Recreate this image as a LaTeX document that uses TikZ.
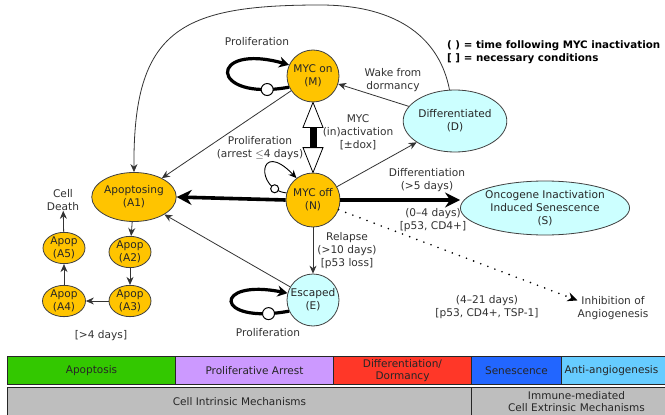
\documentclass[tikz,border=0pt]{standalone}
\usepackage{fontspec}
\setmainfont{DejaVu Sans}
\usetikzlibrary{shapes.geometric,arrows.meta,calc}
\definecolor{morange}{RGB}{255,196,0}
\definecolor{mcyan}{RGB}{204,255,255}
\definecolor{bgreen}{RGB}{51,200,0}
\definecolor{bpurple}{RGB}{204,153,255}
\definecolor{bred}{RGB}{255,55,40}
\definecolor{bblue}{RGB}{34,102,255}
\definecolor{blblue}{RGB}{102,204,255}
\definecolor{bgray}{RGB}{190,190,190}
\definecolor{txt}{RGB}{50,50,50}
\begin{document}
\begin{tikzpicture}[x=1pt,y=-1pt,font=\fontsize{10.6}{13}\selectfont,
  onode/.style={draw=black!75,fill=morange,line width=0.8pt,align=center,inner sep=0pt,text=black!85},
  cnode/.style={draw=black!75,fill=mcyan,line width=0.8pt,align=center,inner sep=0pt,text=black!85},
  lbl/.style={align=center,text=txt,inner sep=0pt},
  thinarr/.style={draw=black!80,line width=0.8pt,-{Stealth[length=8pt,width=7pt]}},
  thickarr/.style={draw=black,line width=3.6pt,-{Stealth[length=15pt,width=15pt]}},
  loopthick/.style={draw=black,line width=3.2pt,-{Stealth[length=10pt,width=11pt]}},
  loopthin/.style={draw=black,line width=0.9pt,-{Stealth[length=8pt,width=7pt]}},
  tailc/.style={circle,draw=black,fill=white,line width=1pt,minimum size=#1,inner sep=0pt},
  dotarr/.style={draw=black,line width=1.8pt,dash pattern=on 0pt off 7.6pt,line cap=round,-{Stealth[length=10pt,width=9pt]}},
  bar/.style={draw=black!85,line width=1pt,anchor=north west,inner sep=0pt,align=center,text=black!85,font=\fontsize{10.5}{12.5}\selectfont}
]
\clip (0,0) rectangle (665,415);
\fill[white] (0,0) rectangle (665,415);

% nodes
\node[onode,circle,minimum size=52] (M) at (313,76) {MYC on\\(M)};
\node[onode,circle,minimum size=54] (N) at (313,200) {MYC off\\(N)};
\node[cnode,circle,minimum size=52] (E) at (313,300) {Escaped\\(E)};
\node[cnode,ellipse,minimum width=78,minimum height=62] (D) at (455,121) {Differentiated\\(D)};
\node[cnode,ellipse,minimum width=136,minimum height=54] (S) at (545,208) {Oncogene Inactivation\\Induced Senescence\\(S)};
\node[onode,ellipse,minimum width=67,minimum height=49] (A1) at (134,197) {Apoptosing\\(A1)};
\node[onode,ellipse,minimum width=42,minimum height=29] (A2) at (130,252) {Apop\\(A2)};
\node[onode,ellipse,minimum width=42,minimum height=29] (A3) at (130,301) {Apop\\(A3)};
\node[onode,ellipse,minimum width=43,minimum height=29] (A4) at (64,301) {Apop\\(A4)};
\node[onode,ellipse,minimum width=42,minimum height=27] (A5) at (64,248) {Apop\\(A5)};
\node[lbl] (CD) at (63,200) {Cell\\Death};
\node[lbl] (I) at (613,308) {Inhibition of\\Angiogenesis};

% legend
\node[anchor=west,inner sep=0pt,align=left,font=\fontsize{10.3}{13}\selectfont\bfseries] (L) at (447,52) {( ) = time following MYC inactivation\\{[ ]} = necessary conditions};

% labels
\node[lbl] (lp1) at (257,42) {Proliferation};
\node[lbl] (lp2) at (260,148) {Proliferation\\(arrest \(\leq\)4 days)};
\node[lbl] (lmyc) at (358,132) {MYC\\(in)activation\\{[}±dox]};
\node[lbl] (lwake) at (393,80) {Wake from\\dormancy};
\node[lbl] (ldiff) at (427,180) {Differentiation\\(>5 days)};
\node[lbl] (lsen) at (433,220) {(0–4 days)\\{[}p53, CD4+]};
\node[lbl] (lrel) at (347,251) {Relapse\\(>10 days)\\{[}p53 loss]};
\node[lbl] (lp3) at (268,333) {Proliferation};
\node[lbl] (l4d) at (101,336) {[>4 days]};
\node[lbl] (lang) at (487,307) {(4–21 days)\\{[}p53, CD4+, TSP-1]};

% big arc D -> A1
\draw[thinarr] (D.100) .. controls (440,40) and (400,5) .. (320,5)
   .. controls (180,5) and (133,30) .. (A1.north);
% straight connectors
\draw[thinarr] (M) -- (A1);
\draw[thinarr] (D) -- (M);
\draw[thinarr] (N) -- (D);
\draw[thinarr] (N) -- (E);
\draw[thinarr] (E) -- (A1);
\draw[thickarr] (N.west) -- (A1.east);
\draw[thickarr] (N.east) -- (N.east -| S.west);
\draw[dotarr] (N) -- (I.168);

% apoptosis chain
\draw[thinarr] (A1) -- (A2);
\draw[thinarr] (A2) -- (A3);
\draw[thinarr] (A3) -- (A4);
\draw[thinarr] (A4) -- (A5);
\draw[thinarr] (A5) -- (CD);

% double arrow M <-> N
\draw[line width=0.8pt,fill=white] (M.south) -- ($(M.south)+(10,25)$) -- ($(M.south)+(-10,25)$) -- cycle;
\fill ($(M.south)+(-3.5,24.5)$) rectangle ($(N.north)+(3.5,-24.5)$);
\draw[line width=0.8pt,fill=white] (N.north) -- ($(N.north)+(10,-25)$) -- ($(N.north)+(-10,-25)$) -- cycle;

% self loops
\draw[loopthick] (M.205) .. controls (208,102) and (208,42) .. node[pos=0.1,tailc=12]{} (M.155);
\draw[loopthick] (E.205) .. controls (213,325) and (213,278) .. node[pos=0.1,tailc=12]{} (E.165);
\draw[loopthin] (N.165) .. controls (255,190) and (258,138) .. node[pos=0.15,tailc=8]{} (N.127);

% bottom bars
\node[bar,fill=bgreen,minimum width=168,minimum height=28] (b1) at (7,356) {Apoptosis};
\node[bar,fill=bpurple,minimum width=158,minimum height=28] (b2) at (175,356) {Proliferative Arrest};
\node[bar,fill=bred,minimum width=138,minimum height=28] (b3) at (333,356) {Differentiation/\\Dormancy};
\node[bar,fill=bblue,minimum width=90,minimum height=28] (b4) at (471,356) {Senescence};
\node[bar,fill=blblue,minimum width=120,minimum height=28,text width=118,align=left] (b5) at (561,356) {\hspace{2pt}Anti-angiogenesis};
\node[bar,fill=bgray,minimum width=464,minimum height=28] (c1) at (7,387) {Cell Intrinsic Mechanisms};
\node[bar,fill=bgray,minimum width=210,minimum height=28,text width=194] (c2) at (471,387) {Immune-mediated\\Cell Extrinsic Mechanisms};
\end{tikzpicture}
\end{document}
